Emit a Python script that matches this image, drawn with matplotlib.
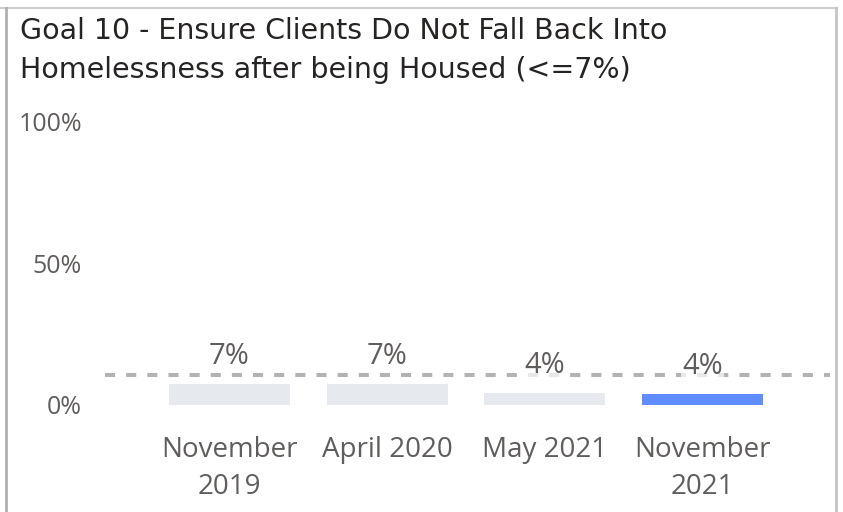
import matplotlib
matplotlib.use("Agg")
import matplotlib.pyplot as plt
from matplotlib.lines import Line2D

categories = ["November\n2019", "April 2020", "May 2021", "November\n2021"]
values = [7.4, 7.4, 4.2, 3.9]
labels = ["7%", "7%", "4%", "4%"]
bar_colors = ["#E6E9ED", "#E6E9ED", "#E6E9ED", "#5F8DFF"]
target = 10.7
yticks = [0, 50, 100]
ytick_labels = ["0%", "50%", "100%"]

W, H = 843, 512
fig = plt.figure(figsize=(W / 100, H / 100), dpi=100)

ax_l, ax_r = 105 / W, 830 / W
ax_b, ax_t = (H - 405) / H, (H - 100) / H
ax = fig.add_axes([ax_l, ax_b, ax_r - ax_l, ax_t - ax_b])

x = list(range(len(categories)))
ax.bar(x, values, width=0.767, color=bar_colors, zorder=2)
ax.set_xlim(-0.79, 3.81)
ax.set_ylim(0, 305 / 2.83)

ax.axhline(target, color="#B3B3B3", linewidth=2.9, linestyle=(0, (2.5, 2.75)), zorder=1)

for xi, v, lab in zip(x, values, labels):
    ax.annotate(lab, (xi, v), xytext=(0, 20), textcoords="offset points",
                ha="center", va="center", fontsize=21, family="Open Sans",
                color="#605E5C", zorder=3,
                bbox=dict(boxstyle="square,pad=0.05", facecolor="white", edgecolor="none", alpha=0.7))

ax.set_yticks(yticks)
ax.set_yticklabels(ytick_labels, family="Open Sans", fontsize=18, color="#605E5C")
ax.set_xticks(x)
ax.set_xticklabels(categories, family="Open Sans", fontsize=20, color="#605E5C", linespacing=1.43)
ax.tick_params(axis="y", length=0, pad=16.5)
ax.tick_params(axis="x", length=0, pad=22)
for s in ax.spines.values():
    s.set_visible(False)
ax.set_facecolor("none")

fig.text(20 / W, 1 - 39 / H, "Goal 10 - Ensure Clients Do Not Fall Back Into",
         family="DejaVu Sans", fontsize=20.5, color="#252423", va="baseline", ha="left")
fig.text(20 / W, 1 - 78 / H, "Homelessness after being Housed (<=7%)",
         family="DejaVu Sans", fontsize=20.5, color="#252423", va="baseline", ha="left")

# frame
fig.add_artist(Line2D([0, 837 / W], [1 - 7.5 / H] * 2, transform=fig.transFigure, color="#CFCFCF", linewidth=1.5))
fig.add_artist(Line2D([5.5 / W] * 2, [0, 1 - 7.5 / H], transform=fig.transFigure, color="#B0B0B0", linewidth=2))
fig.add_artist(Line2D([836 / W] * 2, [0, 1 - 7.5 / H], transform=fig.transFigure, color="#C4C4C4", linewidth=2))

fig.savefig("out.png", dpi=100)
